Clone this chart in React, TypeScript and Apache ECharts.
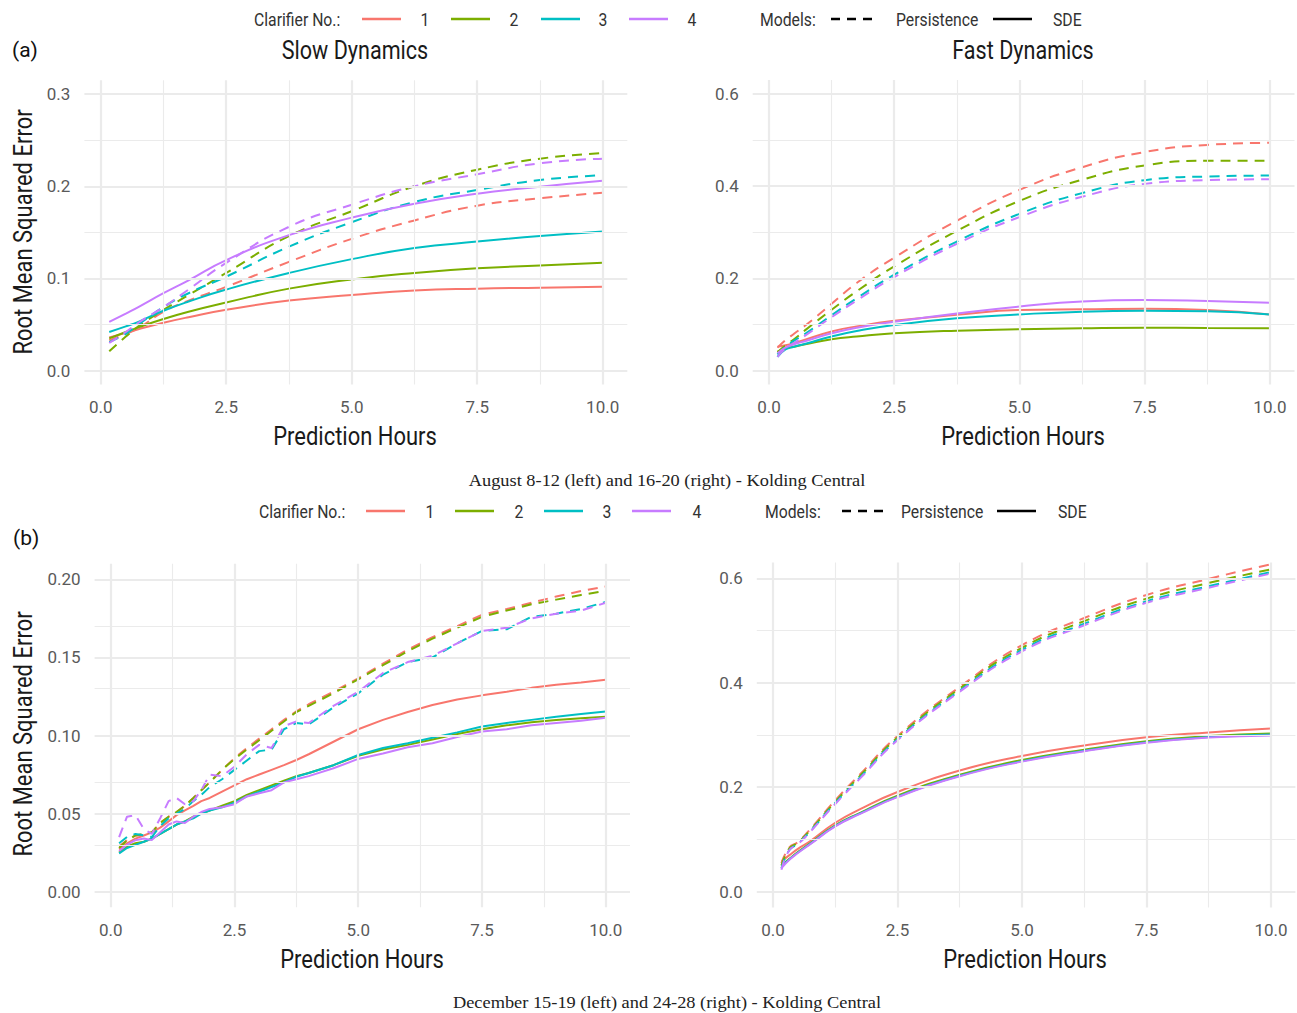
import React, { useEffect, useRef } from "react";
import * as echarts from "echarts";

// ---------- data ----------
const clarifiers = ["1", "2", "3", "4"];
const colors = ["#F8766D", "#7CAE00", "#00BFC4", "#C77CFF"];
const xTicks = [0, 2.5, 5, 7.5, 10];
const xMinor = [1.25, 3.75, 6.25, 8.75];

// (a) August, Slow Dynamics
const augSlowX = [0.17, 0.5, 0.75, 1.25, 1.75, 2.5, 3.75, 5, 6.25, 7.5, 8.75, 10];
const augSlowSDE1 = [0.036, 0.041, 0.045, 0.052, 0.058, 0.066, 0.076, 0.082, 0.087, 0.089, 0.09, 0.091];
const augSlowSDE2 = [0.035, 0.042, 0.047, 0.056, 0.064, 0.074, 0.089, 0.099, 0.106, 0.111, 0.114, 0.117];
const augSlowSDE3 = [0.042, 0.048, 0.053, 0.065, 0.075, 0.088, 0.106, 0.121, 0.133, 0.14, 0.146, 0.151];
const augSlowSDE4 = [0.053, 0.062, 0.069, 0.084, 0.098, 0.12, 0.147, 0.166, 0.181, 0.192, 0.1996, 0.206];
const augSlowPers1 = [0.033, 0.04, 0.046, 0.064, 0.076, 0.091, 0.118, 0.143, 0.163, 0.179, 0.187, 0.193];
const augSlowPers2 = [0.021, 0.037, 0.048, 0.066, 0.082, 0.106, 0.146, 0.173, 0.2, 0.218, 0.23, 0.236];
const augSlowPers3 = [0.031, 0.04, 0.05, 0.069, 0.084, 0.102, 0.1345, 0.161, 0.183, 0.196, 0.2068, 0.212];
const augSlowPers4 = [0.03, 0.042, 0.052, 0.069, 0.088, 0.117, 0.156, 0.18, 0.2, 0.213, 0.225, 0.23];
const augSlowTicks = [0, 0.1, 0.2, 0.3];
const augSlowMinor = [0.05, 0.15, 0.25];

// (a) August, Fast Dynamics
const augFastX = [0.17, 0.33, 0.5, 0.75, 1.25, 1.75, 2.5, 3.75, 5, 6.25, 7.5, 8.75, 10];
const augFastSDE1 = [0.052, 0.055, 0.06, 0.068, 0.085, 0.096, 0.108, 0.121, 0.1316, 0.133, 0.1345, 0.1316, 0.122];
const augFastSDE2 = [0.041, 0.048, 0.052, 0.058, 0.068, 0.074, 0.081, 0.0868, 0.0897, 0.092, 0.0933, 0.0925, 0.092];
const augFastSDE3 = [0.03, 0.046, 0.052, 0.059, 0.074, 0.086, 0.099, 0.1135, 0.122, 0.128, 0.13, 0.1287, 0.122];
const augFastSDE4 = [0.038, 0.05, 0.057, 0.065, 0.081, 0.093, 0.106, 0.124, 0.139, 0.15, 0.153, 0.151, 0.1475];
const augFastPers1 = [0.05, 0.066, 0.08, 0.1, 0.145, 0.19, 0.245, 0.325, 0.392, 0.441, 0.474, 0.4895, 0.494];
const augFastPers2 = [0.04, 0.055, 0.068, 0.09, 0.132, 0.172, 0.226, 0.303, 0.368, 0.414, 0.445, 0.455, 0.455];
const augFastPers3 = [0.035, 0.052, 0.065, 0.082, 0.12, 0.157, 0.208, 0.28, 0.34, 0.385, 0.413, 0.421, 0.423];
const augFastPers4 = [0.03, 0.048, 0.06, 0.078, 0.116, 0.152, 0.203, 0.275, 0.333, 0.377, 0.405, 0.413, 0.415];
const fastTicks = [0, 0.2, 0.4, 0.6];
const fastMinor = [0.1, 0.3, 0.5];

// (b) December, left
const decSlowX = [0.17, 0.33, 0.5, 0.67, 0.83, 1.0, 1.17, 1.33, 1.5, 1.67, 1.83, 2.0, 2.25, 2.5, 2.75, 3.0,
  3.25, 3.5, 3.75, 4.0, 4.5, 5.0, 5.5, 6.0, 6.5, 7.0, 7.5, 8.0, 8.5, 9.0, 9.5, 10];
const decSlowSDE1 = [0.027, 0.031, 0.034, 0.036, 0.038, 0.041, 0.045, 0.049, 0.052, 0.055, 0.058, 0.06, 0.064, 0.068, 0.072, 0.075,
  0.078, 0.081, 0.0843, 0.088, 0.096, 0.104, 0.11, 0.115, 0.1195, 0.123, 0.1257, 0.128, 0.1305, 0.1325, 0.134, 0.1357];
const decSlowSDE2 = [0.025, 0.029, 0.031, 0.032, 0.034, 0.037, 0.04, 0.043, 0.045, 0.048, 0.05, 0.052, 0.055, 0.058, 0.062, 0.065,
  0.068, 0.071, 0.074, 0.076, 0.081, 0.087, 0.091, 0.094, 0.0975, 0.101, 0.104, 0.1065, 0.1085, 0.11, 0.111, 0.112];
const decSlowSDE3 = [0.0245, 0.028, 0.03, 0.032, 0.034, 0.037, 0.04, 0.043, 0.045, 0.047, 0.05, 0.052, 0.054, 0.057, 0.061, 0.064,
  0.067, 0.07, 0.0736, 0.076, 0.081, 0.0875, 0.092, 0.095, 0.0985, 0.102, 0.1057, 0.108, 0.11, 0.112, 0.1138, 0.1153];
const decSlowSDE4 = [0.026, 0.03, 0.033, 0.034, 0.033, 0.038, 0.043, 0.045, 0.044, 0.048, 0.051, 0.053, 0.054, 0.056, 0.061, 0.063,
  0.065, 0.07, 0.072, 0.074, 0.079, 0.085, 0.0885, 0.0925, 0.095, 0.099, 0.1025, 0.104, 0.1065, 0.108, 0.1095, 0.1113];
const decSlowPers1 = [0.029, 0.033, 0.036, 0.036, 0.038, 0.044, 0.048, 0.051, 0.055, 0.06, 0.065, 0.07, 0.078, 0.0855, 0.092, 0.098,
  0.104, 0.11, 0.1155, 0.12, 0.128, 0.1366, 0.146, 0.155, 0.163, 0.17, 0.1773, 0.181, 0.185, 0.189, 0.1925, 0.1954];
const decSlowPers2 = [0.028, 0.033, 0.036, 0.037, 0.038, 0.044, 0.048, 0.051, 0.055, 0.06, 0.065, 0.07, 0.078, 0.085, 0.091, 0.097,
  0.103, 0.109, 0.115, 0.119, 0.127, 0.136, 0.145, 0.154, 0.162, 0.169, 0.176, 0.18, 0.184, 0.187, 0.19, 0.1926];
const decSlowPers3 = [0.031, 0.035, 0.037, 0.036, 0.035, 0.042, 0.047, 0.05, 0.053, 0.058, 0.062, 0.067, 0.072, 0.078, 0.084, 0.09,
  0.091, 0.104, 0.108, 0.107, 0.118, 0.127, 0.139, 0.147, 0.15, 0.159, 0.167, 0.168, 0.176, 0.178, 0.181, 0.1855];
const decSlowPers4 = [0.035, 0.048, 0.049, 0.04, 0.037, 0.047, 0.058, 0.06, 0.056, 0.058, 0.065, 0.075, 0.074, 0.08, 0.088, 0.094,
  0.092, 0.106, 0.109, 0.108, 0.119, 0.128, 0.14, 0.147, 0.151, 0.159, 0.167, 0.169, 0.175, 0.178, 0.18, 0.185];
const decSlowTicks = [0, 0.05, 0.1, 0.15, 0.2];
const decSlowMinor = [0.025, 0.075, 0.125, 0.175];

// (b) December, right
const decFastX = [0.17, 0.33, 0.5, 0.75, 1.25, 1.75, 2.5, 3.75, 5, 6.25, 7.5, 8.75, 10];
const decFastSDE1 = [0.058, 0.07, 0.082, 0.097, 0.132, 0.158, 0.191, 0.232, 0.26, 0.28, 0.2955, 0.305, 0.3125];
const decFastSDE2 = [0.05, 0.063, 0.076, 0.093, 0.127, 0.151, 0.184, 0.224, 0.252, 0.272, 0.288, 0.298, 0.303];
const decFastSDE3 = [0.048, 0.062, 0.075, 0.092, 0.126, 0.15, 0.182, 0.222, 0.25, 0.27, 0.286, 0.296, 0.301];
const decFastSDE4 = [0.045, 0.061, 0.074, 0.091, 0.125, 0.149, 0.181, 0.221, 0.249, 0.269, 0.285, 0.295, 0.299];
const decFastPers1 = [0.055, 0.085, 0.095, 0.12, 0.175, 0.225, 0.298, 0.392, 0.472, 0.524, 0.568, 0.599, 0.627];
const decFastPers2 = [0.05, 0.083, 0.094, 0.118, 0.172, 0.222, 0.295, 0.389, 0.467, 0.518, 0.561, 0.591, 0.617];
const decFastPers3 = [0.045, 0.08, 0.092, 0.116, 0.17, 0.219, 0.292, 0.385, 0.463, 0.513, 0.556, 0.585, 0.612];
const decFastPers4 = [0.042, 0.08, 0.091, 0.115, 0.168, 0.217, 0.29, 0.383, 0.46, 0.51, 0.553, 0.582, 0.609];

// ---------- styling ----------
const FONT = "Roboto, 'DejaVu Sans', sans-serif";
const SERIF = "'Liberation Serif', 'DejaVu Serif', serif";
const GRID_COLOR = "#EBEBEB";
const TICK_COLOR = "#5a5a5a";
const CONDENSE = 0.83;

const panels = [
  {
    x: augSlowX, sde: [augSlowSDE1, augSlowSDE2, augSlowSDE3, augSlowSDE4],
    pers: [augSlowPers1, augSlowPers2, augSlowPers3, augSlowPers4],
    ticks: augSlowTicks, minor: augSlowMinor, dec: 1, yMin: -0.015, yMax: 0.315,
    grid: { left: 84.4, top: 80.3, width: 542.9, height: 304.2 }, smooth: true,
  },
  {
    x: augFastX, sde: [augFastSDE1, augFastSDE2, augFastSDE3, augFastSDE4],
    pers: [augFastPers1, augFastPers2, augFastPers3, augFastPers4],
    ticks: fastTicks, minor: fastMinor, dec: 1, yMin: -0.03, yMax: 0.63,
    grid: { left: 752.7, top: 80.1, width: 541.8, height: 304.4 }, smooth: true,
  },
  {
    x: decSlowX, sde: [decSlowSDE1, decSlowSDE2, decSlowSDE3, decSlowSDE4],
    pers: [decSlowPers1, decSlowPers2, decSlowPers3, decSlowPers4],
    ticks: decSlowTicks, minor: decSlowMinor, dec: 2, yMin: -0.01, yMax: 0.21,
    grid: { left: 94.6, top: 563.7, width: 535.4, height: 343.6 }, smooth: false,
  },
  {
    x: decFastX, sde: [decFastSDE1, decFastSDE2, decFastSDE3, decFastSDE4],
    pers: [decFastPers1, decFastPers2, decFastPers3, decFastPers4],
    ticks: fastTicks, minor: fastMinor, dec: 1, yMin: -0.03, yMax: 0.63,
    grid: { left: 756.8, top: 562.6, width: 538.6, height: 344.8 }, smooth: true,
  },
];

function buildOption() {
  const grids: any[] = [];
  const xAxes: any[] = [];
  const yAxes: any[] = [];
  const series: any[] = [];

  panels.forEach((p, i) => {
    grids.push({ ...p.grid, containLabel: false });
    xAxes.push({
      type: "value", gridIndex: i, min: -0.325, max: 10.49,
      axisLine: { show: false }, axisTick: { show: false }, splitLine: { show: false },
      axisLabel: {
        customValues: xTicks, formatter: (v: number) => v.toFixed(1),
        color: TICK_COLOR, fontSize: 17, fontFamily: FONT, margin: 14,
      },
    });
    yAxes.push({
      type: "value", gridIndex: i, min: p.yMin, max: p.yMax,
      axisLine: { show: false }, axisTick: { show: false }, splitLine: { show: false },
      axisLabel: {
        customValues: p.ticks, formatter: (v: number) => v.toFixed(p.dec),
        color: TICK_COLOR, fontSize: 17, fontFamily: FONT, margin: 14,
      },
    });

    const major = { color: GRID_COLOR, width: 2.2, type: "solid" };
    const minorStyle = { color: GRID_COLOR, width: 1.1, type: "solid" };
    const gl: any[] = [];
    xTicks.forEach((v) => gl.push({ xAxis: v, lineStyle: major }));
    xMinor.forEach((v) => gl.push({ xAxis: v, lineStyle: minorStyle }));
    p.ticks.forEach((v) => gl.push({ yAxis: v, lineStyle: major }));
    p.minor.forEach((v) => gl.push({ yAxis: v, lineStyle: minorStyle }));
    series.push({
      type: "line", xAxisIndex: i, yAxisIndex: i, data: [], silent: true, z: 1,
      markLine: { silent: true, symbol: ["none", "none"], label: { show: false }, emphasis: { disabled: true }, data: gl },
    });

    clarifiers.forEach((c, k) => {
      [
        { vals: p.pers[k], dash: [10, 7], model: "Persistence" },
        { vals: p.sde[k], dash: "solid", model: "SDE" },
      ].forEach((m) => {
        series.push({
          type: "line", name: `${c} ${m.model}`, xAxisIndex: i, yAxisIndex: i, z: 3,
          data: p.x.map((xv, j) => [xv, m.vals[j]]),
          showSymbol: false, symbol: "none",
          smooth: p.smooth ? 0.5 : false,
          lineStyle: { color: colors[k], width: 2, type: m.dash },
          emphasis: { disabled: true },
        });
      });
    });
  });

  // Legends, titles, axis titles, captions
  const graphic: any[] = [];
  const txt = (text: string, x: number, y: number, size: number, align: string,
    opts: { font?: string; color?: string; sx?: number; rot?: number } = {}) => ({
    type: "text", x, y, silent: true, scaleX: opts.sx ?? CONDENSE, rotation: opts.rot ?? 0,
    style: {
      text, fill: opts.color ?? "#222", fontSize: size, fontFamily: opts.font ?? FONT,
      textAlign: align, textVerticalAlign: "middle",
    },
  });
  const key = (x1: number, x2: number, y: number, color: string, dash?: number[]) => ({
    type: "line", silent: true, shape: { x1, y1: y, x2, y2: y },
    style: { stroke: color, lineWidth: 2.5, lineDash: dash },
  });
  const legendRows = [
    { y: 19, title: 254, keys: [362, 451, 541, 629], labels: [425, 514, 603, 692], models: 760, dash: 831, pers: 896, solid: 993, sde: 1053 },
    { y: 511, title: 259, keys: [366, 455, 544, 632], labels: [430, 519, 607, 697], models: 765, dash: 842, pers: 901, solid: 997, sde: 1058 },
  ];
  legendRows.forEach((r) => {
    graphic.push(txt("Clarifier No.:", r.title, r.y, 19, "left", { color: "#333" }));
    clarifiers.forEach((c, k) => {
      graphic.push(key(r.keys[k], r.keys[k] + 39, r.y, colors[k]));
      graphic.push(txt(c, r.labels[k], r.y, 19, "center", { color: "#333" }));
    });
    graphic.push(txt("Models:", r.models, r.y, 19, "left", { color: "#333" }));
    graphic.push(key(r.dash, r.dash + 42, r.y, "#000", [9, 7]));
    graphic.push(txt("Persistence", r.pers, r.y, 19, "left", { color: "#333" }));
    graphic.push(key(r.solid, r.solid + 39, r.y, "#000"));
    graphic.push(txt("SDE", r.sde, r.y, 19, "left", { color: "#333" }));
  });
  graphic.push(txt("(a)", 12, 50, 21, "left", { sx: 1, color: "#111" }));
  graphic.push(txt("(b)", 13, 538, 21, "left", { sx: 1, color: "#111" }));
  graphic.push(txt("Slow Dynamics", 355, 50, 26, "center", { color: "#1a1a1a" }));
  graphic.push(txt("Fast Dynamics", 1023, 50, 26, "center", { color: "#1a1a1a" }));

  const xTitles = [[355, 436], [1023, 436], [362, 959], [1025, 959]];
  xTitles.forEach(([x, y]) => graphic.push(txt("Prediction Hours", x, y, 26, "center", { color: "#1a1a1a", sx: 0.845 })));
  const yTitles = [[24, 232], [24, 734]];
  yTitles.forEach(([x, y]) =>
    graphic.push(txt("Root Mean Squared Error", x, y, 25, "center", { color: "#1a1a1a", sx: 0.88, rot: Math.PI / 2 })));

  graphic.push(txt("August 8-12 (left) and 16-20 (right) - Kolding Central", 667, 480, 17, "center", { font: SERIF, sx: 1.08 }));
  graphic.push(txt("December 15-19 (left) and 24-28 (right) - Kolding Central", 667, 1002, 17, "center", { font: SERIF, sx: 1.08 }));

  return {
    animation: false,
    backgroundColor: "#ffffff",
    grid: grids,
    xAxis: xAxes,
    yAxis: yAxes,
    series,
    graphic,
  };
}

export default function App() {
  const ref = useRef<HTMLDivElement>(null);
  useEffect(() => {
    document.body.style.margin = "0";
    if (!ref.current) return;
    const chart = echarts.init(ref.current, undefined, { renderer: "svg" });
    chart.setOption(buildOption());
    return () => chart.dispose();
  }, []);
  return <div ref={ref} style={{ width: 1297, height: 1013 }} />;
}
